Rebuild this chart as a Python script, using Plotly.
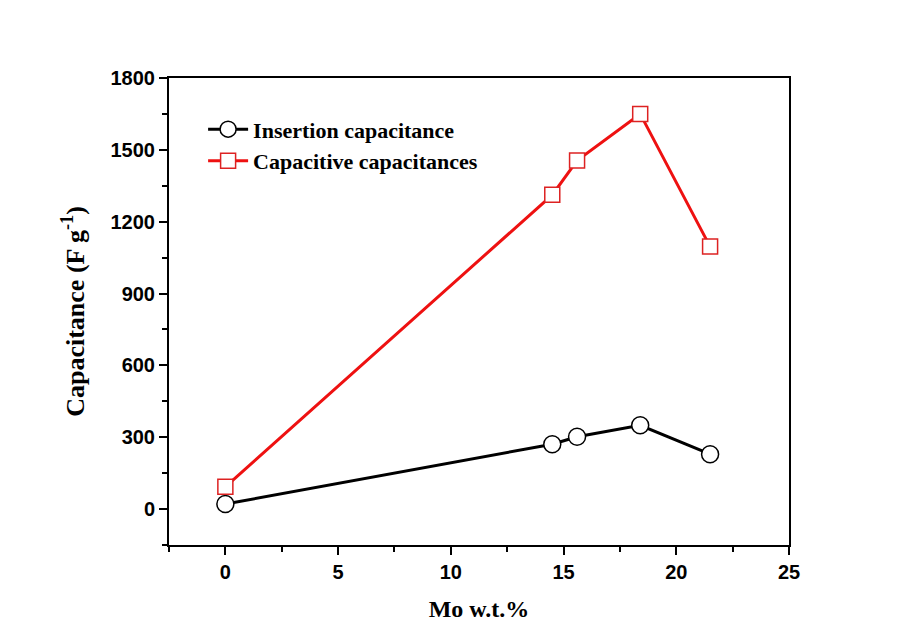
import plotly.graph_objects as go

mo = [0, 14.5, 15.6, 18.4, 21.5]
insertion = [21, 271, 302, 350, 229]
capacitive = [93, 1312, 1455, 1650, 1096]

serif = "Liberation Serif"
sans = "Liberation Sans"

fig = go.Figure()
fig.add_trace(go.Scatter(x=mo, y=insertion, mode="lines+markers", name="<b>Insertion capacitance</b>",
                         line=dict(color="black", width=3),
                         marker=dict(symbol="circle", size=17, color="white", line=dict(color="black", width=1.5))))
fig.add_trace(go.Scatter(x=mo, y=capacitive, mode="lines+markers", name="<b>Capacitive capacitances</b>",
                         line=dict(color="#ee1111", width=3),
                         marker=dict(symbol="square", size=15, color="white", line=dict(color="#dd2222", width=1.5))))

axis_common = dict(showline=True, linecolor="black", linewidth=2, mirror=True, ticks="outside",
                   ticklen=8, tickwidth=2, tickcolor="black", showgrid=False, zeroline=False,
                   tickfont=dict(family=sans, size=20, color="black", weight="bold"))

fig.update_xaxes(range=[-2.5, 25], dtick=5, tick0=0,
                 minor=dict(ticks="outside", ticklen=5, tickwidth=2, tickcolor="black", dtick=2.5, tick0=0),
                 title=dict(text="<b>Mo w.t.%</b>", font=dict(family=serif, size=24, color="black"), standoff=18),
                 **axis_common)
fig.update_yaxes(range=[-150, 1800], dtick=300, tick0=0,
                 minor=dict(ticks="outside", ticklen=5, tickwidth=2, tickcolor="black", dtick=150, tick0=0),
                 title=dict(text="<b>Capacitance (F g<sup>-1</sup>)</b>", font=dict(family=serif, size=26, color="black"), standoff=18),
                 **axis_common)

fig.update_layout(width=897, height=630, margin=dict(l=161, r=116, t=70, b=93),
                  paper_bgcolor="white", plot_bgcolor="white", showlegend=True,
                  legend=dict(x=0.055, y=0.935, xanchor="left", yanchor="top", bgcolor="rgba(0,0,0,0)",
                              font=dict(family=serif, size=22, color="black"), tracegroupgap=0,
                              itemwidth=40))

fig.write_html("out.html")
